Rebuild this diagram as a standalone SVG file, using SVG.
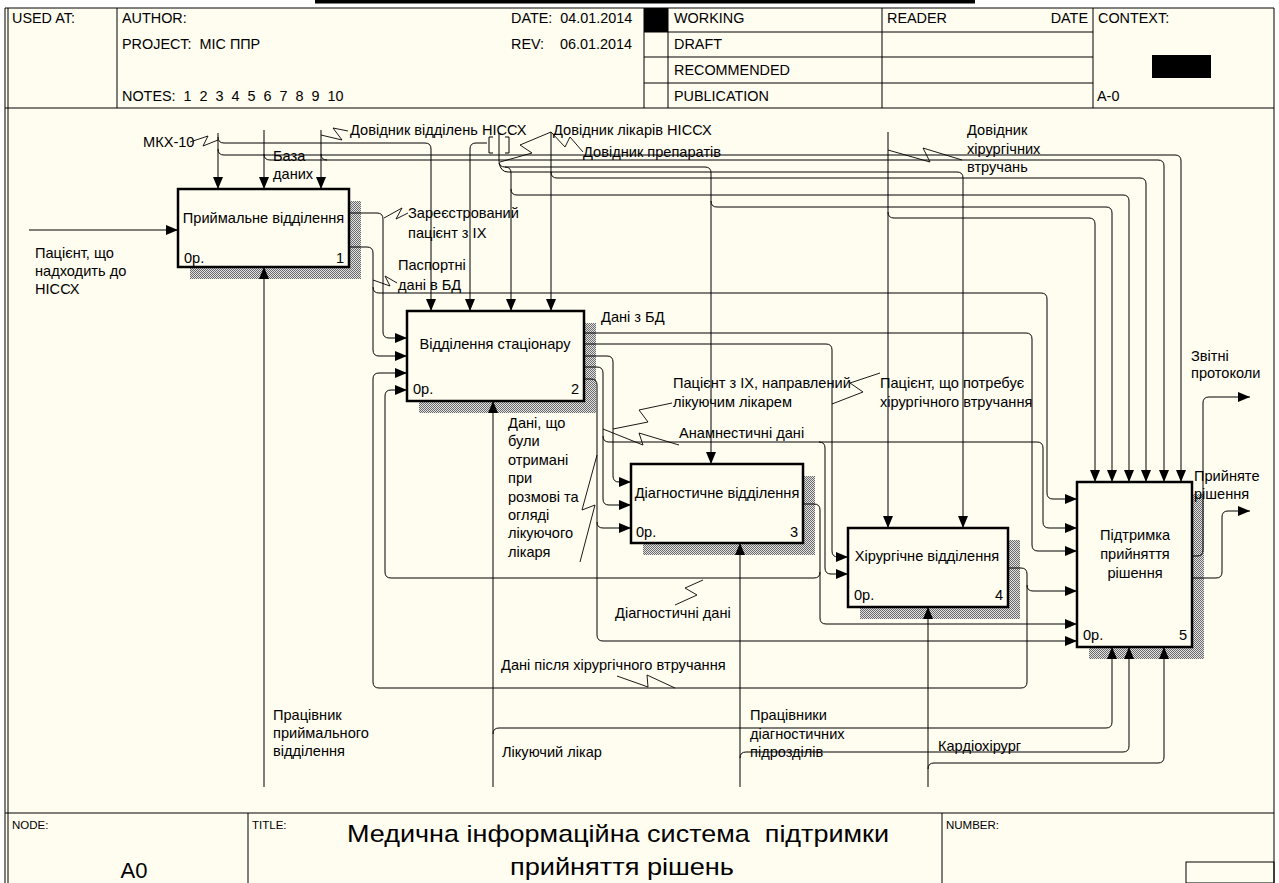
<svg xmlns="http://www.w3.org/2000/svg" width="1279" height="883" viewBox="0 0 1279 883">
<defs>
<style>
text{font-family:"Liberation Sans",Arial,sans-serif;fill:#000}
.lb{font-size:14.6px}
.hd{font-size:14.4px}
.bx{font-size:14.6px}
.ln{fill:none;stroke:#000;stroke-width:1}
.ar{fill:none;stroke:#000;stroke-width:1;marker-end:url(#ah)}
.sq{fill:none;stroke:#000;stroke-width:0.9}
.box{fill:#FFFCF0;stroke:#000;stroke-width:2.5}
.sh{fill:url(#hatch)}
.fr{fill:none;stroke:#000;stroke-width:1}
</style>
<pattern id="hatch" width="2" height="2" patternUnits="userSpaceOnUse"><rect width="2" height="2" fill="#e2e2e2"/><rect width="1" height="1" fill="#6a6a6a"/><rect x="1" y="1" width="1" height="1" fill="#6a6a6a"/></pattern>
<marker id="ah" viewBox="0 0 12 10" refX="12" refY="5" markerWidth="12" markerHeight="10" markerUnits="userSpaceOnUse" orient="auto"><path d="M0,0 L12,5 L0,10 z" fill="#000"/></marker>
</defs>
<rect width="1279" height="883" fill="#fff"/>
<rect x="5" y="8" width="1269" height="875" fill="#FFFCF0"/>
<rect x="315" y="0" width="660" height="3.5" fill="#000"/>

<g id="frame">
<line x1="5" y1="8" x2="5" y2="883" class="fr" stroke-width="1.5"/>
<line x1="8" y1="8" x2="8" y2="883" class="fr"/>
<line x1="1274" y1="8" x2="1274" y2="883" class="fr"/>
<line x1="5" y1="8" x2="1274" y2="8" class="fr" stroke-width="1.5"/>
<line x1="5" y1="108" x2="1274" y2="108" class="fr"/>
<line x1="117" y1="8" x2="117" y2="108" class="fr"/>
<line x1="644" y1="8" x2="644" y2="108" class="fr"/>
<line x1="668" y1="8" x2="668" y2="108" class="fr"/>
<line x1="882" y1="8" x2="882" y2="108" class="fr"/>
<line x1="1093" y1="8" x2="1093" y2="108" class="fr"/>
<line x1="644" y1="32" x2="1093" y2="32" class="fr"/>
<line x1="644" y1="57" x2="1093" y2="57" class="fr"/>
<line x1="644" y1="83" x2="1093" y2="83" class="fr"/>
<rect x="644" y="8" width="24" height="24" fill="#000"/>
<rect x="1152" y="55" width="59" height="23" fill="#000"/>
<text class="hd" x="12" y="23">USED AT:</text>
<text class="hd" x="122" y="23">AUTHOR:</text>
<text class="hd" x="122" y="49" xml:space="preserve">PROJECT:  МІС ППР</text>
<text class="hd" x="122" y="101" xml:space="preserve">NOTES:  1  2  3  4  5  6  7  8  9  10</text>
<text class="hd" x="511" y="23" xml:space="preserve">DATE:  04.01.2014</text>
<text class="hd" x="511" y="49" xml:space="preserve">REV:    06.01.2014</text>
<text class="hd" x="674" y="23">WORKING</text>
<text class="hd" x="674" y="49">DRAFT</text>
<text class="hd" x="674" y="75">RECOMMENDED</text>
<text class="hd" x="674" y="101">PUBLICATION</text>
<text class="hd" x="887" y="23">READER</text>
<text class="hd" x="1088" y="23" text-anchor="end">DATE</text>
<text class="hd" x="1098" y="23">CONTEXT:</text>
<text class="hd" x="1097" y="101">A-0</text>
<line x1="5" y1="813" x2="1274" y2="813" class="fr"/>
<line x1="248" y1="813" x2="248" y2="883" class="fr"/>
<line x1="942" y1="813" x2="942" y2="883" class="fr"/>
<rect x="1186" y="862" width="88" height="21" class="fr"/>
<text x="12" y="829" style="font-size:11.5px">NODE:</text>
<text x="252" y="829" style="font-size:11.5px">TITLE:</text>
<text x="946" y="829" style="font-size:11.5px">NUMBER:</text>
<text x="134" y="878" text-anchor="middle" style="font-size:22px">A0</text>
<text x="347" y="842" style="font-size:24px" textLength="542" lengthAdjust="spacingAndGlyphs" xml:space="preserve">Медична інформаційна система  підтримки</text>
<text x="510" y="875" style="font-size:24px" textLength="224" lengthAdjust="spacingAndGlyphs">прийняття рішень</text>
</g>

<g id="node1">
<rect class="sh" x="190" y="201" width="171" height="78"/>
<rect class="box" x="178" y="189" width="171" height="78"/>
<text class="bx" x="263.5" y="223" text-anchor="middle">Приймальне відділення</text>
<text class="bx" x="184" y="263">0р.</text>
<text class="bx" x="344" y="263" text-anchor="end">1</text>
</g>
<g id="node2">
<rect class="sh" x="419" y="323" width="177" height="90"/>
<rect class="box" x="407" y="311" width="177" height="90"/>
<text class="bx" x="495" y="349" text-anchor="middle">Відділення стаціонару</text>
<text class="bx" x="413" y="394">0р.</text>
<text class="bx" x="579" y="394" text-anchor="end">2</text>
</g>
<g id="node3">
<rect class="sh" x="643" y="476" width="172" height="79"/>
<rect class="box" x="631" y="464" width="172" height="79"/>
<text class="bx" x="717" y="498" text-anchor="middle">Діагностичне відділення</text>
<text class="bx" x="636" y="537">0р.</text>
<text class="bx" x="798" y="537" text-anchor="end">3</text>
</g>
<g id="node4">
<rect class="sh" x="860" y="540" width="160" height="79"/>
<rect class="box" x="848" y="528" width="160" height="79"/>
<text class="bx" x="927" y="561" text-anchor="middle">Хірургічне відділення</text>
<text class="bx" x="854" y="600">0р.</text>
<text class="bx" x="1003" y="600" text-anchor="end">4</text>
</g>
<g id="node5">
<rect class="sh" x="1089" y="494" width="115" height="165"/>
<rect class="box" x="1077" y="482" width="115" height="165"/>
<text class="bx" x="1135" y="540" text-anchor="middle">Підтримка</text>
<text class="bx" x="1135" y="559" text-anchor="middle">прийняття</text>
<text class="bx" x="1135" y="578" text-anchor="middle">рішення</text>
<text class="bx" x="1083" y="640">0р.</text>
<text class="bx" x="1187" y="640" text-anchor="end">5</text>
</g>

<g id="connectors">
<path class="ar" d="M218,133 V189"/>
<path class="ar" d="M218,137 Q218,143 224,143 H425 Q431,143 431,149 V311"/>
<path class="ar" d="M218,149 Q218,155 224,155 H1175 Q1181,155 1181,161 V482"/>
<path class="ar" d="M264,130 V189"/>
<path class="ar" d="M264,154 Q264,160 270,160 H1158 Q1164,160 1164,166 V482"/>
<path class="ar" d="M321,130 V189"/>
<path class="ln" d="M321,154 Q321,160 327,160"/>
<path class="ar" d="M487,143 H476 Q470,143 470,149 V311"/>
<path class="ar" d="M499,133 V161 Q499,167 505,167 H705 Q711,167 711,173 V464"/>
<path class="ar" d="M711,201 Q711,207 717,207 H1106 Q1112,207 1112,213 V482"/>
<path class="ar" d="M499,163 Q501,172 508,172 H957 Q963,172 963,178 V528"/>
<path class="ar" d="M505,167 Q511,167 511,173 V311"/>
<path class="ar" d="M511,189 Q511,195 517,195 H1123 Q1129,195 1129,201 V482"/>
<path class="ar" d="M551,132 V311"/>
<path class="ar" d="M551,172 Q551,178 557,178 H1140 Q1146,178 1146,184 V482"/>
<path class="ar" d="M888,132 V528"/>
<path class="ar" d="M888,212 Q888,218 894,218 H1089 Q1095,218 1095,224 V482"/>
<path class="ln" d="M493,137 H489 V153 H493 M505,137 H509 V153 H505"/>
<path class="ar" d="M349,213 H377 Q383,213 383,219 V332 Q383,338 389,338 H407"/>
<path class="ar" d="M349,247 H367 Q373,247 373,253 V350 Q373,356 379,356 H407"/>
<path class="ar" d="M373,287 Q373,293 379,293 H1041 Q1047,293 1047,299 V493 Q1047,499 1053,499 H1077"/>
<path class="ar" d="M584,333 H1026 Q1032,333 1032,339 V545 Q1032,551 1038,551 H1077"/>
<path class="ar" d="M584,344 H826 Q832,344 832,350 V551 Q832,557 838,557 H848"/>
<path class="ar" d="M584,356 H607 Q613,356 613,362 V476 Q613,482 619,482 H631"/>
<path class="ar" d="M584,367 H597 Q603,367 603,373 V499 Q603,505 609,505 H631"/>
<path class="ar" d="M603,436 Q603,442 609,442 H1037 Q1043,442 1043,448 V522 Q1043,528 1049,528 H1077"/>
<path class="ar" d="M819,442 Q825,442 825,448 V568 Q825,574 831,574 H848"/>
<path class="ar" d="M584,379 H591 Q597,379 597,385 V522 Q597,528 603,528 H631"/>
<path class="ar" d="M597,522 V635 Q597,641 603,641 H1077"/>
<path class="ar" d="M803,504 H814 Q820,504 820,510 V618 Q820,624 826,624 H1077"/>
<path class="ar" d="M820,572 Q820,578 814,578 H391 Q385,578 385,572 V396 Q385,390 391,390 H407"/>
<path class="ar" d="M1008,568 H1021 Q1027,568 1027,574 V585 Q1027,591 1033,591 H1077"/>
<path class="ar" d="M1027,585 V682 Q1027,688 1021,688 H379 Q373,688 373,682 V379 Q373,373 379,373 H407"/>
<path class="ar" d="M1192,556 H1197 Q1203,556 1203,550 V403 Q1203,397 1209,397 H1250"/>
<path class="ar" d="M1192,578 H1216 Q1222,578 1222,572 V517 Q1222,511 1228,511 H1250"/>
<path class="ar" d="M29,230 H178"/>
<path class="ar" d="M264,787 V267"/>
<path class="ar" d="M493,787 V401"/>
<path class="ar" d="M493,734 Q493,728 499,728 H1106 Q1112,728 1112,722 V647"/>
<path class="ar" d="M740,787 V543"/>
<path class="ar" d="M740,758 Q740,752 746,752 H1123 Q1129,752 1129,746 V647"/>
<path class="ar" d="M928,787 V607"/>
<path class="ar" d="M928,769 Q928,763 934,763 H1158 Q1164,763 1164,757 V647"/>
<path class="sq" d="M190,142 L208,136 L203,146 L218,140"/>
<path class="sq" d="M321,135 L342,140 L333,128 L348,131"/>
<path class="sq" d="M551,132 L520,145 L532,153 L500,162"/>
<path class="sq" d="M551,132 L565,147 L570,137 L583,152"/>
<path class="sq" d="M888,150 L930,162 L923,148 L962,160"/>
<path class="sq" d="M384,218 L402,208 L396,219 L408,213"/>
<path class="sq" d="M373,280 L390,286 L385,276 L397,283"/>
<path class="sq" d="M672,403 L639,410 L648,422 L613,429"/>
<path class="sq" d="M880,373 L850,383 L863,392 L832,404"/>
<path class="sq" d="M679,445 L639,433 L643,445 L603,429"/>
<path class="sq" d="M580,562 L595,505 L582,510 L597,455"/>
<path class="sq" d="M675,605 L697,595 L685,588 L703,580"/>
<path class="sq" d="M617,676 L648,687 L647,675 L675,688"/>
</g>

<g id="labels">
<text class="lb" x="143" y="147">МКХ-10</text>
<text class="lb" x="273" y="161">База</text>
<text class="lb" x="273" y="179">даних</text>
<text class="lb" x="350" y="135">Довідник відділень НІССХ</text>
<text class="lb" x="553" y="135">Довідник лікарів НІССХ</text>
<text class="lb" x="583" y="157">Довідник препаратів</text>
<text class="lb" x="967" y="135">Довідник</text>
<text class="lb" x="967" y="154">хірургічних</text>
<text class="lb" x="967" y="172">втручань</text>
<text class="lb" x="408" y="218">Зареєстрований</text>
<text class="lb" x="408" y="238">пацієнт з ІХ</text>
<text class="lb" x="398" y="270">Паспортні</text>
<text class="lb" x="398" y="290">дані в БД</text>
<text class="lb" x="35" y="258">Пацієнт, що</text>
<text class="lb" x="35" y="276">надходить до</text>
<text class="lb" x="35" y="294">НІССХ</text>
<text class="lb" x="601" y="322">Дані з БД</text>
<text class="lb" x="673" y="388">Пацієнт з ІХ, направлений</text>
<text class="lb" x="673" y="407">лікуючим лікарем</text>
<text class="lb" x="880" y="388">Пацієнт, що потребує</text>
<text class="lb" x="880" y="407">хірургічного втручання</text>
<text class="lb" x="679" y="438">Анамнестичні дані</text>
<text class="lb" x="508" y="428">Дані, що</text>
<text class="lb" x="508" y="446">були</text>
<text class="lb" x="508" y="465">отримані</text>
<text class="lb" x="508" y="483">при</text>
<text class="lb" x="508" y="502">розмові та</text>
<text class="lb" x="508" y="520">огляді</text>
<text class="lb" x="508" y="538">лікуючого</text>
<text class="lb" x="508" y="557">лікаря</text>
<text class="lb" x="615" y="618">Діагностичні дані</text>
<text class="lb" x="501" y="670">Дані після хірургічного втручання</text>
<text class="lb" x="273" y="720">Працівник</text>
<text class="lb" x="273" y="738">приймального</text>
<text class="lb" x="273" y="756">відділення</text>
<text class="lb" x="502" y="757">Лікуючий лікар</text>
<text class="lb" x="750" y="720">Працівники</text>
<text class="lb" x="750" y="739">діагностичних</text>
<text class="lb" x="750" y="757">підрозділів</text>
<text class="lb" x="938" y="751">Кардіохірург</text>
<text class="lb" x="1191" y="361">Звітні</text>
<text class="lb" x="1191" y="378">протоколи</text>
<text class="lb" x="1194" y="481">Прийняте</text>
<text class="lb" x="1194" y="499">рішення</text>
</g>
</svg>
